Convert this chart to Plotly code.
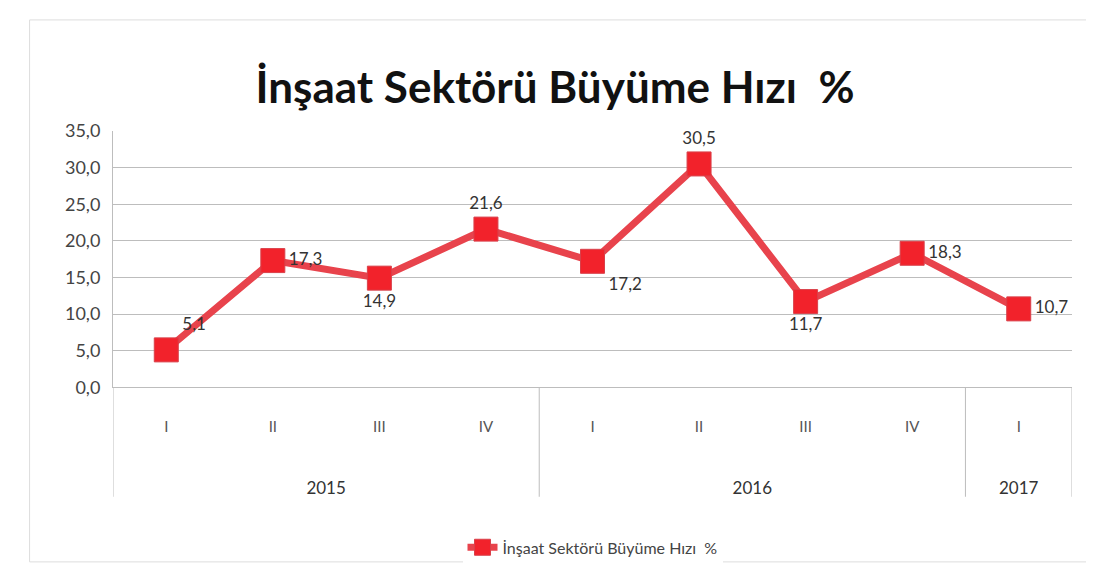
import plotly.graph_objects as go

years = ["2015", "2016", "2017"]
quarters = ["I", "II", "III", "IV", "I", "II", "III", "IV", "I"]
quarters_per_year = [4, 4, 1]
values = [5.1, 17.3, 14.9, 21.6, 17.2, 30.5, 11.7, 18.3, 10.7]
label_pos = ["top right", "middle right", "bottom center", "top center", "bottom right",
             "top center", "bottom center", "middle right", "middle right"]
y_ticks = [0, 5, 10, 15, 20, 25, 30, 35]
series_name = "İnşaat Sektörü Büyüme Hızı  %"
title_text = "İnşaat Sektörü Büyüme Hızı  %"

FONT = "Lato, Open Sans, sans-serif"
GRID = "#BDBDBD"

# category positions derived from the data order
xpos = list(range(len(values)))
year_centers, boundaries = [], []
start = 0
for n in quarters_per_year:
    year_centers.append(start + (n - 1) / 2)
    boundaries.append(start + n - 0.5)
    start += n

fig = go.Figure()
fig.add_trace(go.Scatter(
    x=xpos, y=values,
    mode="lines+markers+text",
    name=series_name,
    line=dict(color="#E8434C", width=7),
    marker=dict(symbol="square", size=24, color="#F2222B",
                line=dict(color="#D9404A", width=1)),
    texttemplate="%{y:.1f}",
    textposition=label_pos,
    textfont=dict(family=FONT, size=17, color="#333333"),
    cliponaxis=False,
))

y_bottom = 0.331
shapes = []
for b in [-0.5] + boundaries:
    shapes.append(dict(type="line", xref="x", yref="paper", x0=b, x1=b,
                       y0=y_bottom, y1=0.045, line=dict(color=GRID, width=1)))
# faint chart-area border
shapes.append(dict(type="rect", xref="paper", yref="paper",
                   x0=-0.087, x1=1.022, y0=-0.125, y1=1.29,
                   line=dict(color="#DDDDDD", width=1), layer="below"))

fig.update_layout(
    width=1094, height=567,
    separators=",.",
    paper_bgcolor="white", plot_bgcolor="white",
    margin=dict(l=105, r=30, t=123, b=60),
    title=dict(text="<b>" + title_text + "</b>", x=0.5, xanchor="center", y=0.86, yanchor="middle",
               font=dict(family=FONT, size=44, color="#111111")),
    font=dict(family=FONT, color="#444444"),
    showlegend=True,
    legend=dict(orientation="h", x=0.5, xanchor="center", y=-0.04, yanchor="top",
                font=dict(size=16, color="#444444")),
    shapes=shapes,
    yaxis=dict(domain=[y_bottom, 1], range=[0, 35], tickvals=y_ticks, tickformat=".1f",
               showgrid=True, gridcolor=GRID, gridwidth=1,
               zeroline=False, showline=True, linecolor=GRID,
               tickfont=dict(size=18, color="#444444"), ticks="", ticklabelstandoff=8),
    xaxis=dict(range=[-0.5, len(values) - 0.5], tickvals=xpos, ticktext=quarters,
               showgrid=False, zeroline=False, showline=True, linecolor=GRID,
               tickfont=dict(size=15, color="#555555"), ticks="", ticklabelstandoff=26),
    xaxis2=dict(overlaying="x", anchor="free", position=0.1, side="bottom",
                range=[-0.5, len(values) - 0.5], tickvals=year_centers, ticktext=years,
                showgrid=False, zeroline=False, showline=False, ticks="",
                tickfont=dict(size=17, color="#333333")),
)
fig.add_trace(go.Scatter(x=year_centers, y=[None] * len(years), xaxis="x2",
                         showlegend=False, hoverinfo="skip", mode="markers"))

fig.write_html("out.html")
